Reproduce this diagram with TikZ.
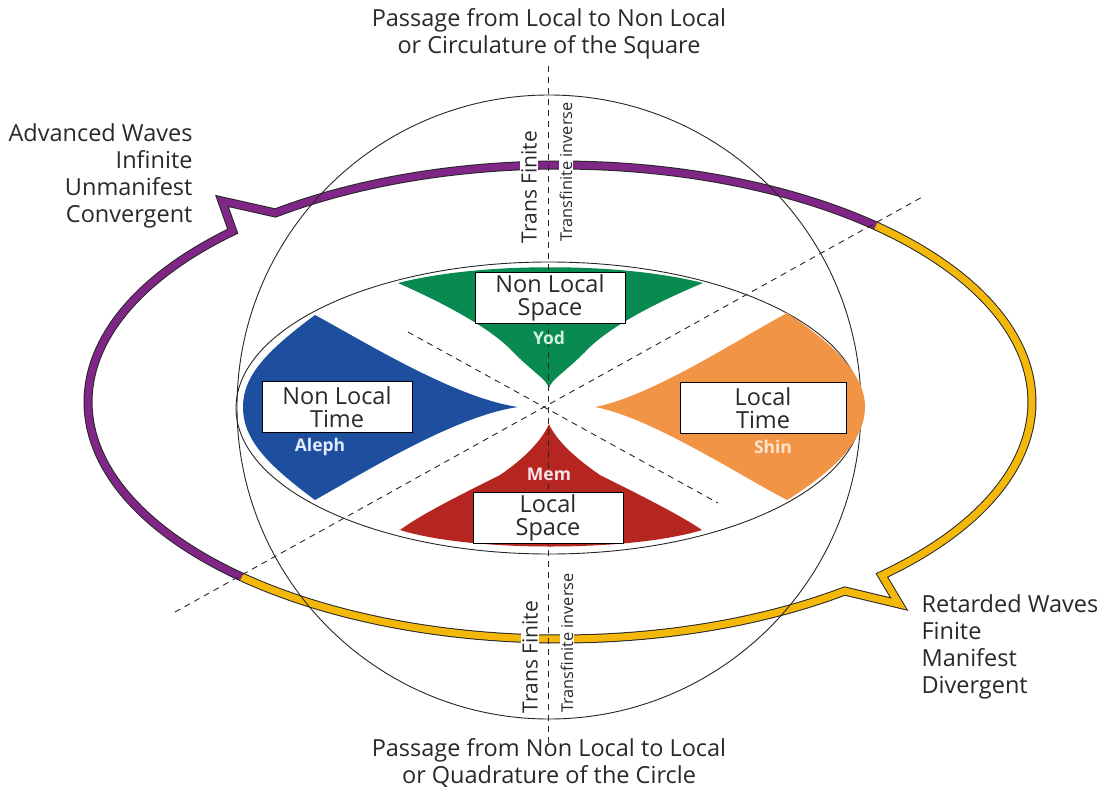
\documentclass[tikz,border=0pt]{standalone}
\usepackage{fontspec}
\setmainfont{Open Sans}
\definecolor{txt}{RGB}{40,40,45}
\definecolor{purp}{RGB}{128,38,135}
\definecolor{yell}{RGB}{243,184,10}
\definecolor{grn}{RGB}{8,138,80}
\definecolor{blu}{RGB}{30,78,158}
\definecolor{org}{RGB}{242,148,70}
\definecolor{rd}{RGB}{182,38,32}
\tikzset{
  outl/.style={line width=9pt, draw=black!85, line join=miter, miter limit=20},
  inl/.style={line width=7pt, line join=miter, miter limit=20},
  thinln/.style={draw=black!85, line width=0.9pt},
  dashln/.style={draw=black!85, line width=0.9pt, dash pattern=on 6pt off 5pt},
  lbox/.style={draw=black, line width=1pt, fill=white, minimum width=150pt, minimum height=51pt, align=center, font=\fontsize{23.5}{23}\selectfont, text=txt, inner sep=0pt},
  captxt/.style={font=\fontsize{23.5}{27.5}\selectfont, text=txt, align=center},
  sidetxt/.style={font=\fontsize{23.5}{26.8}\selectfont, text=txt},
  vbig/.style={rotate=90, fill=white, inner sep=1pt, font=\fontsize{21}{21}\selectfont, text=txt},
  vsmall/.style={rotate=90, fill=white, inner sep=1pt, font=\fontsize{16.3}{17}\selectfont, text=txt},
  hebr/.style={font=\fontsize{17.5}{17.5}\bfseries\selectfont},
}
\begin{document}
\begin{tikzpicture}[x=1pt,y=-1pt]
\useasboundingbox (0,0) rectangle (1102,790);
% outer loop: purple part
\draw[outl] plot[domain=227.6:133.9,samples=60] ({560+472*cos(\x)},{402-237*sin(\x)}) -- (222,201) -- plot[domain=127.1:48.0,samples=60] ({560+472*cos(\x)},{402-237*sin(\x)});
\draw[inl,draw=purp] plot[domain=227.6:133.9,samples=60] ({560+472*cos(\x)},{402-237*sin(\x)}) -- (222,201) -- plot[domain=127.1:48.0,samples=60] ({560+472*cos(\x)},{402-237*sin(\x)});
% yellow part
\draw[outl] plot[domain=48.0:-47.0,samples=60] ({560+472*cos(\x)},{402-237*sin(\x)}) -- (899,604) -- plot[domain=-52.9:-132.4,samples=60] ({560+472*cos(\x)},{402-237*sin(\x)});
\draw[inl,draw=yell] plot[domain=48.0:-47.0,samples=60] ({560+472*cos(\x)},{402-237*sin(\x)}) -- (899,604) -- plot[domain=-52.9:-132.4,samples=60] ({560+472*cos(\x)},{402-237*sin(\x)});
% circle and ellipse
\coordinate (c) at (549,407);
\draw[thinln] (c) circle[radius=312];
\draw[thinln] (549,408) ellipse[x radius=313, y radius=146];
% coloured shapes
\fill[grn] (398,283) .. controls (480,262) and (620,262) .. (703,283)
  .. controls (650,305) and (605,330) .. (585,352)
  .. controls (565,372) and (551,380) .. (549,388)
  .. controls (547,380) and (533,372) .. (513,352)
  .. controls (493,330) and (448,305) .. (398,283) -- cycle;
\fill[blu] (315,315) .. controls (365,342) and (455,398) .. (518,407)
  .. controls (455,416) and (365,472) .. (315,500)
  .. controls (268,465) and (243,440) .. (243,407)
  .. controls (243,375) and (268,350) .. (315,315) -- cycle;
\fill[org] (787,313) .. controls (737,340) and (652,396) .. (595,407)
  .. controls (652,418) and (737,474) .. (787,500)
  .. controls (835,470) and (865,440) .. (865,407)
  .. controls (865,375) and (835,345) .. (787,313) -- cycle;
\fill[rd] (549,424) .. controls (556,440) and (575,458) .. (600,475)
  .. controls (640,495) and (680,515) .. (702,530)
  .. controls (630,552) and (470,552) .. (400,530)
  .. controls (420,515) and (460,495) .. (500,475)
  .. controls (525,458) and (542,440) .. (549,424) -- cycle;
% dashed lines
\coordinate (vt) at (548,66);
\coordinate (vb) at (548,746);
\coordinate (d1a) at (175,612);
\coordinate (d1b) at (924,196);
\coordinate (d2a) at (408,332);
\coordinate (d2b) at (718,503);
\draw[dashln] (vt) -- (vb);
\draw[dashln] (d1a) -- (d1b);
\draw[dashln] (d2a) -- (d2b);
% boxes
\node[lbox] (nls) at (550,298) {Non Local\\Space};
\node[lbox] (nlt) at (337,407) {Non Local\\Time};
\node[lbox, minimum width=166pt] (lt) at (763,408) {Local\\Time};
\node[lbox] (ls) at (548,518) {Local\\Space};
% hebrew letter names
\node[hebr, text={rgb,255:red,210;green,242;blue,225}] (yod) at (549,338) {Yod};
\node[hebr, text={rgb,255:red,228;green,235;blue,252}] (aleph) at (320,447) {Aleph};
\node[hebr, text={rgb,255:red,252;green,228;blue,205}] (shin) at (773,447) {Shin};
\node[hebr, text={rgb,255:red,250;green,225;blue,235}] (mem) at (549,474) {Mem};
% vertical labels
\node[vbig] (tf1) at (529,187) {Trans Finite};
\node[vsmall] (ti1) at (566,172) {Transfinite inverse};
\node[vbig] (tf2) at (530,657) {Trans Finite};
\node[vsmall] (ti2) at (567,643) {Transfinite inverse};
% captions
\node[captxt] (top) at (549,34) {Passage from Local to Non Local\\or Circulature of the Square};
\node[captxt] (bot) at (549,763) {Passage from Non Local to Local\\or Quadrature of the Circle};
\node[sidetxt, anchor=east, align=right] (adv) at (196,176) {Advanced Waves\\Infinite\\Unmanifest\\Convergent};
\node[sidetxt, anchor=west, align=left] (ret) at (918,647) {Retarded Waves\\Finite\\Manifest\\Divergent};
\end{tikzpicture}
\end{document}
